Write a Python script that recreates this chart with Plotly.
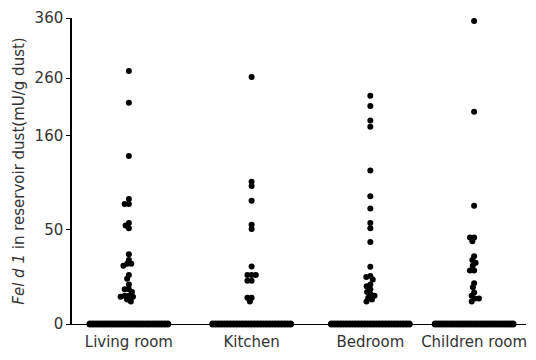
import numpy as np
import plotly.graph_objects as go

# Fel d 1 concentration (mU/g dust) per room
categories = ["Living room", "Kitchen", "Bedroom", "Children room"]

living_room = [272, 217, 136, 86, 80, 80, 58, 55, 52, 37, 34, 32, 32, 31, 26, 24, 21,
               18.5, 18.5, 17, 15, 15, 14.5, 14.5, 13, 12] + [0] * 27
kitchen = [262, 106, 101, 84, 56, 51, 30.5, 26, 26, 26, 23, 23, 14, 14, 12] + [0] * 27
bedroom = [229, 211, 186, 175, 119, 89, 75, 58, 52, 43.5, 30.4, 25.5, 25, 23.7, 21, 20,
           18.4, 17, 15.8, 15, 14, 13, 12] + [0] * 27
children_room = [355, 201, 78, 46, 46, 44, 36, 34, 32.6, 31, 28.4, 28.4, 21.6, 19.5,
                 16.8, 15, 13.5, 13.5, 12] + [0] * 27

groups = [living_room, kitchen, bedroom, children_room]

# broken (piecewise linear) value axis
tick_values = [0, 50, 160, 260, 360]
tick_pos = [0, 95.5, 191.5, 249.5, 310.5]


def to_axis(v):
    return np.interp(np.asarray(v, dtype=float), tick_values, tick_pos)


# horizontal layout of the columns (axis units, 100 px per unit)
col_pos = [0.57, 1.80, 2.99, 4.03]
PX = 100.0
DIAM = 4.2        # swarm collision distance in px
ZERO_STEP = 3.0   # spacing of the overlapping zero row in px


def swarm(ys):
    """Beeswarm offsets (px) for points at axis heights ys."""
    placed = []
    out = np.zeros(len(ys))
    order = np.argsort(-np.asarray(ys))
    for i in order:
        y = ys[i]
        intervals = []
        for (px_, py_) in placed:
            dy = abs(py_ - y)
            if dy < DIAM:
                w = np.sqrt(DIAM ** 2 - dy ** 2)
                intervals.append((px_ - w, px_ + w))
        cands = [0.0] + [a for a, b in intervals] + [b for a, b in intervals]
        cands.sort(key=lambda c: (abs(c), c))
        for c in cands:
            if all(not (a + 1e-9 < c < b - 1e-9) for a, b in intervals):
                out[i] = c
                break
        placed.append((out[i], y))
    return out


fig = go.Figure()
for pos, vals in zip(col_pos, groups):
    vals = np.asarray(vals, dtype=float)
    ys = to_axis(vals)
    xs = np.zeros(len(vals))
    nz = vals > 0
    xs[nz] = swarm(ys[nz])
    nzero = int((~nz).sum())
    xs[~nz] = (np.arange(nzero) - (nzero - 1) / 2) * ZERO_STEP
    sizes = np.where(nz, 6, 7)
    fig.add_trace(go.Scatter(
        x=pos + xs / PX, y=ys, mode="markers",
        marker=dict(color="black", size=sizes, opacity=1, line=dict(width=0)),
        cliponaxis=False, showlegend=False, hoverinfo="skip",
    ))

font = dict(family="DejaVu Sans", size=15, color="#333")
fig.update_layout(
    width=536, height=360,
    margin=dict(l=72, r=9, t=15, b=35),
    paper_bgcolor="white", plot_bgcolor="white",
    font=font,
    xaxis=dict(range=[0, 4.55], tickvals=col_pos, ticktext=categories,
               showline=True, linecolor="black", linewidth=1,
               showgrid=False, zeroline=False, ticks="", ticklabelstandoff=4),
    yaxis=dict(range=[0, 310.5], tickvals=tick_pos, ticktext=[str(t) for t in tick_values],
               showline=True, linecolor="black", linewidth=1.5,
               showgrid=False, zeroline=False, ticks="outside", ticklen=4,
               tickcolor="black",
               title=dict(text="<i>Fel d 1</i> in reservoir dust(mU/g dust)",
                          font=font, standoff=6)),
)

fig.write_html("out.html")
